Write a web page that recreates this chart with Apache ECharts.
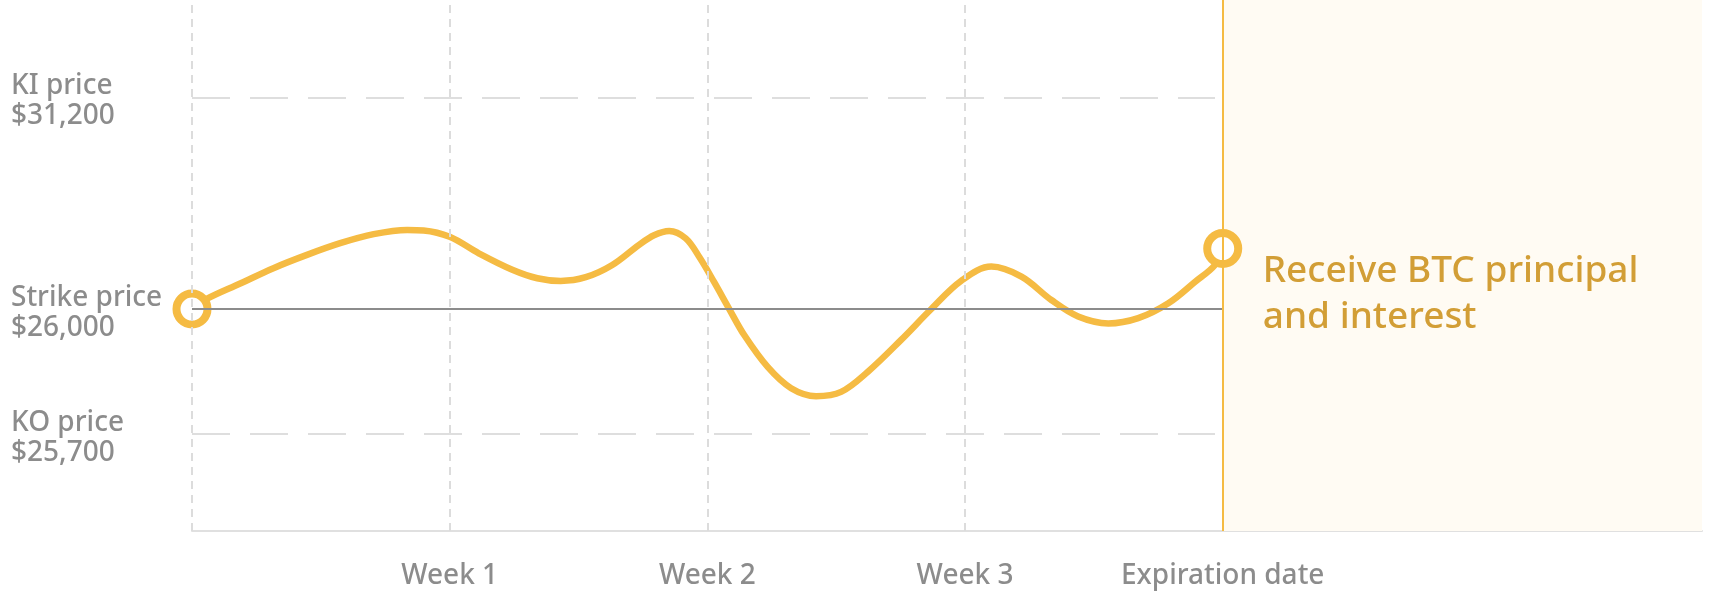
<!DOCTYPE html>
<html>
<head>
<meta charset="utf-8">
<script src="https://cdn.jsdelivr.net/npm/echarts@6/dist/echarts.min.js"></script>
<style>
  html, body { margin: 0; padding: 0; background: #ffffff; }
  #chart { width: 1720px; height: 614px; }
</style>
</head>
<body>
<div id="chart"></div>
<script>
// x: weeks from start, y: relative level on the chart (0-100)
let weekTicks = [0, 1, 2, 3];
let xLabels = ['', 'Week 1', 'Week 2', 'Week 3', 'Expiration date'];
let expiryX = 4;
let xMax = 5.86;

let levelValues = [81.6, 41.8, 18.3];
let levelNames = ['KI price', 'Strike price', 'KO price'];
let levelPrices = ['$31,200', '$26,000', '$25,700'];

let pathX = [0, 0.057, 0.187, 0.316, 0.446, 0.575, 0.705, 0.835, 0.899, 1.0, 1.113, 1.243, 1.34, 1.431, 1.528, 1.631, 1.735, 1.793, 1.852, 1.916, 1.97, 2.026, 2.085, 2.143, 2.234, 2.325, 2.422, 2.519, 2.623, 2.752, 2.869, 2.985, 3.102, 3.219, 3.335, 3.439, 3.556, 3.672, 3.789, 3.892, 3.97, 4.0];
let pathY = [41.8, 43.7, 46.6, 49.5, 52.0, 54.2, 55.9, 56.7, 56.6, 55.4, 52.3, 49.2, 47.6, 47.1, 47.8, 50.1, 53.9, 55.7, 56.5, 55.1, 51.5, 46.9, 41.8, 36.9, 30.9, 26.9, 25.4, 26.2, 30.0, 36.0, 41.8, 47.1, 49.8, 47.9, 43.5, 40.4, 39.1, 40.1, 42.9, 46.9, 50.1, 53.2];

let note = 'Receive BTC principal\nand interest';

let gold = '#f5bb43';
let grey = '#8c8c8c';

let pathData = pathX.map((x, i) => [x, pathY[i]]);
let endPoints = [pathData[0], pathData[pathData.length - 1]];

// labels sit a touch lower than their guide line
let labelShift = 0.7;

let chart = echarts.init(document.getElementById('chart'));

let option = {
  backgroundColor: '#ffffff',
  animation: false,
  grid: { left: 192, right: 18, top: 0, bottom: 83 },
  xAxis: {
    type: 'value',
    min: 0,
    max: xMax,
    interval: 1,
    axisLine: { show: true, lineStyle: { color: '#e0e0e0', width: 2 } },
    axisTick: { show: false },
    splitLine: { show: false },
    axisLabel: {
      margin: 31,
      color: grey,
      fontSize: 28,
      fontWeight: 500,
      fontFamily: 'Noto Sans',
      showMaxLabel: false,
      formatter: v => xLabels[v] || ''
    }
  },
  yAxis: {
    type: 'value',
    min: 0,
    max: 100,
    axisLine: { show: false },
    axisTick: { show: false },
    splitLine: { show: false },
    axisLabel: {
      customValues: levelValues.map(v => v - labelShift),
      align: 'left',
      margin: 181,
      color: grey,
      fontSize: 28,
      fontWeight: 500,
      lineHeight: 30,
      fontFamily: 'Noto Sans',
      formatter: v => {
        let i = levelValues.findIndex(l => Math.abs(l - labelShift - v) < 0.01);
        return i < 0 ? '' : levelNames[i] + '\n' + levelPrices[i];
      }
    }
  },
  series: [
    {
      // guide lines and expiry area
      type: 'line',
      z: 1,
      data: [[0, levelValues[1]]],
      symbol: 'none',
      lineStyle: { opacity: 0 },
      silent: true,
      markArea: {
        silent: true,
        itemStyle: { color: '#fffbf3' },
        label: {
          show: true,
          position: 'insideLeft',
          distance: 40,
          offset: [0, 29],
          color: '#d29e36',
          fontSize: 37,
          fontWeight: 500,
          lineHeight: 46,
          fontFamily: 'Noto Sans',
          formatter: note
        },
        data: [[{ xAxis: expiryX }, { xAxis: xMax }]]
      },
      markLine: {
        silent: true,
        symbol: 'none',
        label: { show: false },
        data: [
          ...weekTicks.map(x => ({ xAxis: x, lineStyle: { color: '#dcdcdc', width: 2, type: [8, 6] } })),
          [
            { coord: [0, levelValues[0]], lineStyle: { color: '#dedede', width: 2, type: [38, 20] } },
            { coord: [expiryX - 0.03, levelValues[0]] }
          ],
          [
            { coord: [0, levelValues[2]], lineStyle: { color: '#dedede', width: 2, type: [38, 20] } },
            { coord: [expiryX - 0.03, levelValues[2]] }
          ],
          [
            { coord: [0, levelValues[1]], lineStyle: { color: '#8c8c8c', width: 2, type: 'solid' } },
            { coord: [expiryX, levelValues[1]] }
          ],
          { xAxis: expiryX, lineStyle: { color: gold, width: 2, type: 'solid' } }
        ]
      }
    },
    {
      name: 'BTC price',
      type: 'line',
      z: 3,
      smooth: 0.35,
      symbol: 'none',
      lineStyle: { color: gold, width: 6.5 },
      data: pathData
    },
    {
      type: 'scatter',
      z: 4,
      symbol: 'circle',
      symbolSize: 31,
      itemStyle: { color: '#ffffff', borderColor: gold, borderWidth: 8, opacity: 1 },
      data: endPoints
    }
  ]
};

chart.setOption(option);
</script>
</body>
</html>
